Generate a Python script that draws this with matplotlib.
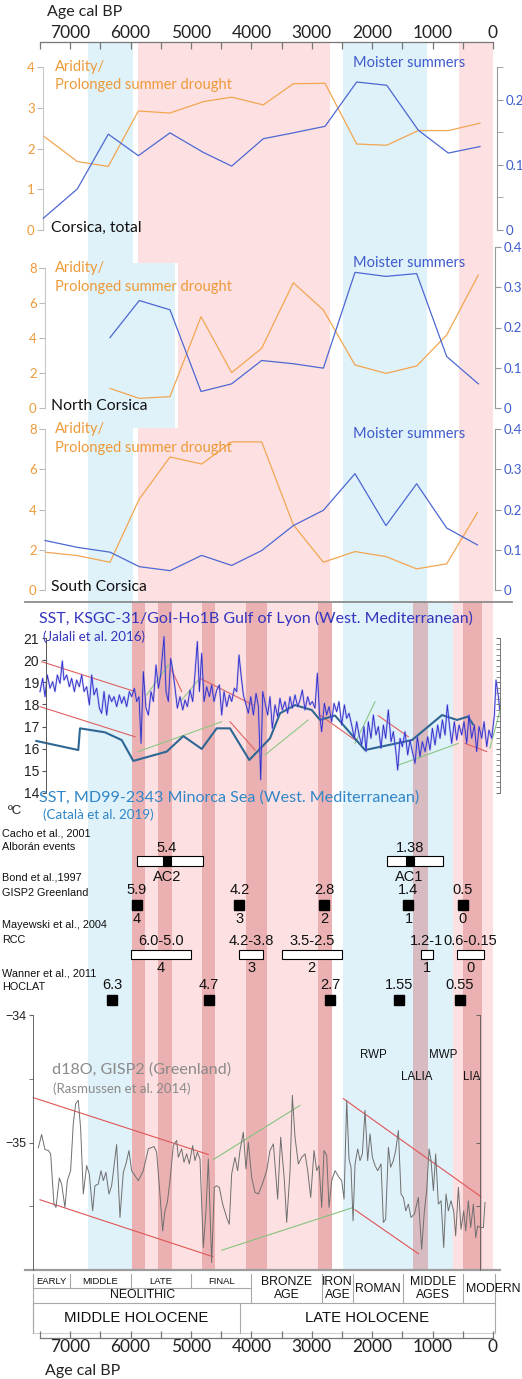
import matplotlib
matplotlib.use('Agg')
import matplotlib.pyplot as plt
from matplotlib.patches import Rectangle

plt.rcParams['font.family'] = ['Lato', 'DejaVu Sans']
ARIAL = ['Liberation Sans', 'DejaVu Sans']

W, H, DPI = 522, 1379, 100

# ---------------- data ----------------
age_major = [7000, 6000, 5000, 4000, 3000, 2000, 1000, 0]
age_minor = [7500, 6500, 5500, 4500, 3500, 2500, 1500, 500]

# Corsica, total
tot_age = [7445, 6882, 6369, 5872, 5348, 4796, 4327, 3803, 3306, 2781, 2257, 1760, 1236, 740, 215]
tot_arid = [2.31, 1.68, 1.56, 2.92, 2.87, 3.15, 3.26, 3.07, 3.59, 3.60, 2.11, 2.08, 2.44, 2.44, 2.62]
tot_moist = [0.018, 0.063, 0.147, 0.114, 0.149, 0.119, 0.098, 0.140, 0.149, 0.159, 0.227, 0.222, 0.153, 0.118, 0.128]

# North Corsica
north_age = [6341, 5856, 5348, 4834, 4327, 3830, 3306, 2809, 2285, 1772, 1264, 767, 243]
north_arid = [1.12, 0.55, 0.65, 5.22, 2.02, 3.41, 7.16, 5.6, 2.46, 1.98, 2.4, 4.17, 7.6]
north_moist = [0.175, 0.267, 0.244, 0.041, 0.060, 0.118, 0.110, 0.099, 0.337, 0.327, 0.334, 0.128, 0.060]

# South Corsica
south_age = [7417, 6882, 6341, 5856, 5348, 4823, 4327, 3830, 3306, 2809, 2285, 1772, 1264, 767, 258]
south_arid = [1.88, 1.71, 1.38, 4.52, 6.61, 6.26, 7.36, 7.36, 3.24, 1.38, 1.91, 1.66, 1.05, 1.30, 3.85]
south_moist = [0.123, 0.106, 0.094, 0.058, 0.048, 0.086, 0.061, 0.098, 0.160, 0.198, 0.289, 0.160, 0.264, 0.154, 0.112]

# SST Gulf of Lyon (Jalali et al. 2016)
lyon_age = [7500, 7456, 7417, 7379, 7334, 7290, 7252, 7213, 7169, 7130, 7103, 7058, 7014, 6976, 6931,
            6893, 6849, 6810, 6771, 6727, 6683, 6644, 6606, 6562, 6517, 6479, 6440, 6396, 6357, 6313,
            6275, 6230, 6186, 6148, 6109, 6065, 6021, 5982, 5938, 5899, 5861, 5827, 5789, 5745, 5706,
            5662, 5623, 5579, 5540, 5502, 5447, 5413, 5375, 5336, 5303, 5264, 5226, 5182, 5137, 5099,
            5060, 5016, 4972, 4933, 4895, 4861, 4823, 4784, 4740, 4696, 4657, 4619, 4574, 4530, 4492,
            4453, 4409, 4365, 4326, 4282, 4243, 4205, 4171, 4133, 4089, 4050, 4011, 3967, 3923, 3884,
            3846, 3813, 3731, 3692, 3654, 3609, 3565, 3527, 3488, 3444, 3400, 3361, 3322, 3278, 3234,
            3195, 3157, 3113, 3068, 3030, 2991, 2947, 2908, 2875, 2837, 2792, 2754, 2715, 2671, 2632,
            2588, 2550, 2505, 2461, 2423, 2384, 2340, 2296, 2257, 2218, 2174, 2136, 2102, 2064, 2020,
            1981, 1937, 1898, 1854, 1815, 1777, 1733, 1688, 1650, 1611, 1578, 1539, 1501, 1457, 1412,
            1374, 1335, 1291, 1252, 1208, 1170, 1125, 1081, 1043, 1004, 960, 916, 877, 838, 794,
            756, 722, 684, 640, 601, 562, 518, 480, 435, 397, 353, 308, 270, 231, 187,
            148, 104, 66, 21, -23, -50, -89, -112]
lyon_sst = [18.58, 19.18, 18.35, 19.33, 18.73, 19.03, 18.58, 19.33, 18.95, 19.96, 19.10, 19.33, 18.80, 19.18, 18.58,
            19.10, 18.80, 19.33, 18.58, 18.80, 17.98, 19.33, 18.43, 18.73, 17.83, 17.60, 18.58, 17.52, 18.43, 18.13,
            18.35, 17.90, 18.43, 18.05, 18.35, 17.90, 18.58, 18.35, 18.73, 18.13, 18.35, 16.24, 19.48, 17.83, 17.52,
            18.58, 18.13, 19.78, 18.73, 19.33, 21.06, 18.58, 18.13, 20.08, 19.56, 18.73, 17.83, 18.35, 17.75, 18.20,
            17.90, 18.65, 18.13, 19.41, 20.84, 18.58, 20.31, 18.13, 18.80, 18.35, 18.88, 18.13, 18.65, 18.88, 17.52,
            18.58, 17.90, 18.43, 18.13, 18.73, 18.58, 20.23, 19.33, 18.43, 17.98, 17.60, 18.35, 17.52, 18.50, 17.90,
            14.60, 18.58, 17.52, 18.35, 16.92, 17.98, 17.45, 18.28, 17.75, 18.13, 17.60, 18.35, 17.83, 18.43, 17.90,
            18.20, 18.65, 17.75, 18.35, 17.98, 18.13, 17.83, 19.41, 17.67, 16.77, 18.05, 17.52, 17.90, 17.22, 18.05,
            17.67, 18.13, 17.07, 17.98, 17.37, 17.60, 17.07, 16.47, 17.22, 16.62, 16.17, 17.00, 15.87, 17.22, 16.47,
            17.52, 16.62, 17.00, 16.02, 17.07, 16.47, 17.75, 16.32, 16.77, 15.94, 15.04, 16.47, 16.09, 16.77, 15.72,
            16.39, 15.87, 15.34, 16.54, 15.64, 16.32, 15.87, 16.54, 15.94, 16.92, 16.17, 17.07, 16.47, 17.30, 16.62,
            17.98, 17.07, 16.24, 17.22, 16.39, 17.07, 16.62, 17.22, 16.24, 17.52, 16.47, 17.07, 15.87, 17.00, 16.47,
            17.22, 16.09, 16.84, 16.47, 17.52, 19.10, 18.35, 17.75]

# SST Minorca Sea (Catala et al. 2019)
minorca_age = [7560, 6866, 6838, 6424, 6147, 5955, 5402, 5127, 4823, 4575, 4354, 4035, 3692, 3526,
               3278, 3002, 2864, 2616, 2119, 1341, 844, 596, 414, 331]
minorca_sst = [16.35, 15.94, 16.92, 16.74, 16.39, 15.45, 15.87, 16.57, 15.99, 16.92, 16.92, 15.49, 16.47, 17.60,
               17.97, 17.75, 17.30, 17.50, 15.94, 16.39, 17.52, 17.30, 17.45, 17.10]

sst_red = [((7472, 19.93), (5927, 18.58)), ((7500, 17.90), (5927, 16.54)), ((5320, 19.56), (5154, 18.58)),
           ((4851, 19.18), (3968, 17.97)), ((4354, 17.22), (3940, 15.94)), ((2864, 17.52), (2235, 16.30)),
           ((1899, 17.49), (1402, 16.54)), ((464, 16.24), (104, 15.87))]
sst_green = [((5733, 18.43), (5376, 19.78)), ((5154, 18.20), (4879, 19.10)), ((5873, 15.87), (4492, 17.22)),
             ((3775, 15.72), (3058, 17.30)), ((2285, 16.24), (1954, 18.12)), ((1568, 15.26), (575, 16.24)),
             ((50, 16.02), (-110, 17.67))]

# events
cacho_age = [5400, 1380]
cacho_label = ['5.4', '1.38']
cacho_name = ['AC2', 'AC1']
cacho_span = [(5900, 4800), (1755, 830)]
bond_ka = [5.9, 4.2, 2.8, 1.4, 0.5]
bond_num = ['4', '3', '2', '1', '0']
rcc_span = [(6.0, 5.0), (4.2, 3.8), (3.5, 2.5), (1.2, 1.0), (0.6, 0.15)]
rcc_label = ['6.0-5.0', '4.2-3.8', '3.5-2.5', '1.2-1', '0.6-0.15']
rcc_num = ['4', '3', '2', '1', '0']
hoclat_ka = [6.3, 4.7, 2.7, 1.55, 0.55]

# d18O GISP2 (Rasmussen et al. 2014)
gisp_age = [7528, 7473, 7418, 7362, 7324, 7269, 7235, 7180, 7142, 7087, 7048, 6993, 6949, 6910, 6866,
            6827, 6783, 6728, 6684, 6628, 6590, 6535, 6490, 6452, 6408, 6358, 6314, 6231, 6176, 6121,
            6077, 6027, 5983, 5928, 5872, 5790, 5707, 5613, 5569, 5525, 5469, 5431, 5392, 5348, 5293,
            5238, 5210, 5155, 5116, 5072, 5028, 4973, 4934, 4895, 4851, 4796, 4752, 4713, 4658, 4614,
            4575, 4531, 4476, 4410, 4366, 4327, 4272, 4228, 4189, 4134, 4090, 4051, 3996, 3941,
            3885, 3819, 3747, 3692, 3636, 3565, 3515, 3454, 3416, 3360, 3322, 3278, 3223, 3167, 3112,
            3068, 3018, 2963, 2919, 2880, 2836, 2798, 2753, 2715, 2671, 2615, 2549, 2505, 2466, 2422,
            2384, 2351, 2317, 2284, 2240, 2202, 2163, 2119, 2075, 2036, 1997, 1953, 1909, 1854, 1815,
            1777, 1732, 1694, 1650, 1611, 1567, 1523, 1484, 1445, 1401, 1357, 1302, 1236, 1181, 1136,
            1098, 1059, 1026, 987, 949, 905, 860, 816, 778, 739, 695, 651, 618, 573, 529,
            485, 452, 408, 369, 325, 286, 253, 209, 160, 132]
gisp_d18o = [-35.042, -34.937, -35.055, -35.063, -35.089, -35.483, -35.509, -35.278, -35.326, -35.509, -35.299,
             -35.221, -34.853, -34.696, -34.669, -34.892, -35.404, -35.181, -35.247, -35.536, -35.339, -35.326,
             -35.221, -35.299, -35.234, -35.404, -35.339, -35.016, -35.588, -35.234, -35.168, -35.063, -35.221,
             -35.260, -35.299, -35.221, -35.050, -35.031, -35.076, -35.339, -35.693, -35.536, -35.470, -35.299,
             -35.024, -34.984, -35.116, -35.050, -35.155, -35.089, -35.168, -35.024, -35.142, -35.076, -35.129,
             -35.824, -35.536, -35.129, -35.942, -35.352, -35.339, -35.352, -35.483, -35.588, -35.641, -35.247,
             -35.116, -35.221, -35.063, -34.919, -35.207, -34.997, -35.273, -35.391,
             -35.404, -35.326, -35.221, -35.063, -35.011, -35.444, -34.958, -35.299, -35.627, -35.221, -34.630,
             -34.958, -35.168, -35.116, -35.089, -35.221, -35.431, -35.063, -35.221, -35.181, -35.509, -35.063,
             -35.102, -35.509, -35.299, -35.221, -35.273, -35.299, -35.444, -34.669, -35.129, -35.194, -35.614,
             -35.168, -35.050, -35.142, -35.089, -34.748, -35.142, -34.932, -35.116, -35.181, -35.221, -35.168,
             -35.627, -35.601, -35.037, -35.194, -35.142, -35.063, -34.906, -35.404, -35.431, -35.536, -35.483,
             -35.588, -35.562, -35.431, -35.837, -35.536, -35.378, -35.050, -35.142, -35.378, -35.089, -35.483,
             -35.457, -35.824, -35.404, -35.536, -35.457, -35.536, -35.732, -35.352, -35.680, -35.536, -35.693,
             -35.457, -35.667, -35.483, -35.746, -35.654, -35.667, -35.667, -35.470]
gisp_red = [((7611, -34.648), (4714, -35.094)), ((7500, -35.449), (4641, -35.895)),
            ((2478, -34.656), (199, -35.425)), ((2285, -35.528), (1236, -35.872))]
gisp_green = [((4631, -35.134), (3195, -34.709)), ((4492, -35.845), (2313, -35.509))]

# climate phases (background shading, years BP)
upper_blue = [(6700, 5960), (2480, 1095)]
upper_pink = [(5880, 2700), (560, 0)]
north_blue = [(6700, 5265), (2480, 1095)]
north_pink = [(5215, 2700), (560, 0)]
lower_blue = [(6700, 5980), (2480, 660)]
lower_pink = [(5980, 2670), (660, 0)]
dark_pink = [(5980, 5760), (5545, 5315), (4820, 4600), (4090, 3740), (2900, 2670), (500, 180)]
lalia = [(1320, 1080)]

# cultural periods
period_row1 = [('EARLY', 7616, 7000), ('MIDDLE', 7000, 6000), ('LATE', 6000, 5000), ('FINAL', 5000, 4000)]
period_row2 = [('BRONZE\nAGE', 4000, 2830), ('IRON\nAGE', 2830, 2320), ('ROMAN', 2320, 1490),
               ('MIDDLE\nAGES', 1490, 497), ('MODERN', 497, -33)]
holocene = [('MIDDLE HOLOCENE', 7616, 4190), ('LATE HOLOCENE', 4190, -33)]

# ---------------- colours ----------------
ORANGE = '#f2a652'
BLUE = '#4d68d2'
ORANGE_T = '#ee9a3a'
BLUE_T = '#3e5ccc'
PINK = '#fde1e2'
LBLUE = '#dff1f9'
DARK = '#ebb1b2'
MAUVE = '#d8bac1'
SPINE = '#9a9a9a'

# ---------------- helpers ----------------
AGE0_PX, PX_PER_YR = 493.0, 0.0604


def age_at(px):
    return (AGE0_PX - px) / PX_PER_YR


fig = plt.figure(figsize=(W / DPI, H / DPI), dpi=DPI)


def px_axes(x0, y0, x1, y1, z=1):
    ax = fig.add_axes([x0 / W, 1 - y1 / H, (x1 - x0) / W, (y1 - y0) / H], zorder=z)
    ax.set_xlim(age_at(x0), age_at(x1))
    ax.patch.set_alpha(0)
    return ax


def ftext(x, y, s, **kw):
    kw.setdefault('va', 'center')
    fig.text(x / W, 1 - y / H, s, **kw)


bg = px_axes(0, 0, W, H, z=0)
bg.set_ylim(H, 0)
bg.axis('off')


def shade(spans, y0, y1, color):
    for a, b in spans:
        bg.fill_between([a, b], y0, y1, color=color, lw=0)


# upper part (Corsica panels)
for (y0, y1), blue, pink in [((42, 263), upper_blue, upper_pink),
                             ((263, 428), north_blue, north_pink),
                             ((428, 602), upper_blue, upper_pink)]:
    shade(blue, y0, y1, LBLUE)
    shade(pink, y0, y1, PINK)
# lower part (SST, events, d18O)
shade(lower_blue, 602, 1270, LBLUE)
shade(lower_pink, 602, 1270, PINK)
shade(dark_pink, 602, 1270, DARK)
shade(lalia, 602, 1270, MAUVE)

# separators
bg.plot([age_at(25), age_at(512)], [602, 602], color='#8c8c8c', lw=1.3)
bg.plot([age_at(25), age_at(500)], [1270, 1270], color='#9c9c9c', lw=1.6)


# ---------------- age axes ----------------
def age_axis(y, top):
    ax = px_axes(40, y - 10, 493, y) if not top else px_axes(40, y, 493, y + 10)
    for s in ax.spines.values():
        s.set_visible(False)
    sp = 'top' if top else 'bottom'
    ax.spines[sp].set_visible(True)
    ax.spines[sp].set_color('#777')
    ax.spines[sp].set_linewidth(0.9)
    ax.set_yticks([])
    ax.set_xticks(age_major)
    ax.set_xticks(age_minor, minor=True)
    ax.set_xticklabels([str(a) for a in age_major])
    if top:
        ax.xaxis.tick_top()
    ax.tick_params(axis='x', which='both', direction='in', length=5, width=0.9, color='#777',
                   labelsize=12.5, pad=1, labelcolor='#222')
    return ax


age_axis(42, True)
age_axis(1338, False)
ftext(47, 12, 'Age cal BP', fontsize=11.5, color='#222')
ftext(45, 1371, 'Age cal BP', fontsize=11.5, color='#222')


# ---------------- Corsica panels ----------------
def corsica_panel(y_top, y_bot, ages, arid, moist, lmax, rmax, lticks, rmaj, rmin, lbound,
                  x0=45, x1=495):
    axl = px_axes(x0, y_top, x1, y_bot, z=2)
    axl.plot(ages, arid, color=ORANGE, lw=0.9, clip_on=False)
    axl.set_ylim(0, lmax)
    axr = axl.twinx()
    axr.set_ylim(0, rmax)
    axr.plot(ages, moist, color=BLUE, lw=0.9, clip_on=False)
    for ax in (axl, axr):
        for s in ax.spines.values():
            s.set_visible(False)
        ax.set_xticks([])
    axl.spines['left'].set_visible(True)
    axl.spines['left'].set_color('#c8c8c8')
    axl.spines['left'].set_bounds(0, lbound)
    axl.set_yticks(lticks)
    axl.tick_params(axis='y', length=4, color='#bbbbbb', labelcolor=ORANGE_T, labelsize=9.5, pad=2)
    axr.spines['right'].set_visible(True)
    axr.spines['right'].set_color(SPINE)
    axr.set_yticks(rmaj)
    axr.set_yticks(rmin, minor=True)
    axr.set_yticklabels([('%g' % v) for v in rmaj])
    axr.tick_params(axis='y', which='both', length=4, color=SPINE, labelcolor=BLUE_T, labelsize=9.5, pad=2)
    return axl


corsica_panel(67, 230, tot_age, tot_arid, tot_moist, 4, 0.25, [0, 1, 2, 3, 4], [0, 0.1, 0.2],
              [0.05, 0.15, 0.25], 4, x0=43, x1=497)
corsica_panel(247, 408, north_age, north_arid, north_moist, 9.2, 0.4, [0, 2, 4, 6, 8],
              [0, 0.1, 0.2, 0.3, 0.4], [], 8)
corsica_panel(429, 590, south_age, south_arid, south_moist, 8, 0.4, [0, 2, 4, 6, 8],
              [0, 0.1, 0.2, 0.3, 0.4], [], 8)

for ya, yp, ym, yn, name in [(67, 85, 63, 228, 'Corsica, total'), (268, 287, 263, 406, 'North Corsica'),
                             (429, 448, 434, 587, 'South Corsica')]:
    ftext(55, ya, 'Aridity/', fontsize=10.5, color=ORANGE_T)
    ftext(55, yp, 'Prolonged summer drought', fontsize=10.5, color=ORANGE_T)
    ftext(353, ym, 'Moister summers', fontsize=10.5, color=BLUE_T)
    ftext(51, yn, name, fontsize=11.3, color='#111')

# ---------------- SST panel ----------------
ax_sst = px_axes(46, 638, 500, 793, z=2)
ax_sst.set_ylim(14, 21)
for (a0, t0), (a1, t1) in sst_red:
    ax_sst.plot([a0, a1], [t0, t1], color='#e06060', lw=0.8, clip_on=False)
for (a0, t0), (a1, t1) in sst_green:
    ax_sst.plot([a0, a1], [t0, t1], color='#8cc784', lw=0.8, clip_on=False)
ax_sst.plot(minorca_age, minorca_sst, color='#2e6793', lw=1.5, clip_on=False)
ax_sst.plot(lyon_age, lyon_sst, color='#8a86ec', lw=1.5, alpha=0.45, clip_on=False)
ax_sst.plot(lyon_age, lyon_sst, color='#2b2bc8', lw=0.6, clip_on=False)
for s in ax_sst.spines.values():
    s.set_visible(False)
ax_sst.spines['left'].set_visible(True)
ax_sst.spines['left'].set_color('#555')
ax_sst.spines['left'].set_linewidth(0.7)
ax_sst.set_xticks([])
ax_sst.set_yticks(range(14, 22))
ax_sst.tick_params(axis='y', length=3, color='#555', labelsize=10, pad=2, labelcolor='#222')
for lab in ax_sst.get_yticklabels():
    lab.set_family(ARIAL)
ax_sst_r = ax_sst.twinx()
ax_sst_r.set_ylim(14, 21)
for s in ax_sst_r.spines.values():
    s.set_visible(False)
ax_sst_r.spines['right'].set_visible(True)
ax_sst_r.spines['right'].set_color('#777')
ax_sst_r.spines['right'].set_linewidth(0.7)
ax_sst_r.set_yticks(range(14, 22))
ax_sst_r.set_yticks([14 + 0.25 * i for i in range(29)], minor=True)
ax_sst_r.set_yticklabels([])
ax_sst_r.tick_params(axis='y', which='both', direction='in', length=3, color='#777')

ftext(39, 618, 'SST, KSGC-31/GoI-Ho1B Gulf of Lyon (West. Mediterranean)', fontsize=11.5, color='#3434bd')
ftext(43, 637, '(Jalali et al. 2016)', fontsize=9.6, color='#3434bd')
ftext(39, 798, 'SST, MD99-2343 Minorca Sea (West. Mediterranean)', fontsize=11.6, color='#2f86c8')
ftext(43, 815, '(Català et al. 2019)', fontsize=9.6, color='#2f86c8')
ftext(8, 811, 'ºC', fontsize=9.5, color='#222', family=ARIAL)

# ---------------- events ----------------
EV = dict(family=ARIAL, color='#111')
for y, s in [(833, 'Cacho et al., 2001'), (847, 'Alborán events'), (878, 'Bond et al.,1997'),
             (893, 'GISP2 Greenland'), (925, 'Mayewski et al., 2004'), (940, 'RCC'),
             (973, 'Wanner et al., 2011'), (987, 'HOCLAT')]:
    ftext(2, y, s, fontsize=7.8, **EV)

for age, lab, name, (a0, a1) in zip(cacho_age, cacho_label, cacho_name, cacho_span):
    bg.add_patch(Rectangle((a1, 856), a0 - a1, 10, facecolor='white', edgecolor='k', lw=0.8))
    bg.add_patch(Rectangle((age - 65, 856), 130, 10, facecolor='k', edgecolor='k', lw=0.8))
    bg.text(age, 848, lab, ha='center', va='center', fontsize=10.5, **EV)
    bg.text(age, 877, name, ha='center', va='center', fontsize=10.5, **EV)

bond_age = [k * 1000 for k in bond_ka]
bg.plot(bond_age, [905] * len(bond_age), 's', ms=7, color='k')
for a, k, n in zip(bond_age, bond_ka, bond_num):
    bg.text(a, 890, '%g' % k, ha='center', va='center', fontsize=10.5, **EV)
    bg.text(a, 919, n, ha='center', va='center', fontsize=10.5, **EV)

for (k0, k1), lab, n in zip(rcc_span, rcc_label, rcc_num):
    bg.add_patch(Rectangle((k1 * 1000, 950), (k0 - k1) * 1000, 9, facecolor='white', edgecolor='k', lw=0.8))
    mid = (k0 + k1) * 500
    bg.text(mid, 941, lab, ha='center', va='center', fontsize=10.5, **EV)
    bg.text(mid, 968, n, ha='center', va='center', fontsize=10.5, **EV)

hoclat_age = [k * 1000 for k in hoclat_ka]
bg.plot(hoclat_age, [1000] * len(hoclat_age), 's', ms=7.5, color='k')
for a, k in zip(hoclat_age, hoclat_ka):
    bg.text(a, 985, '%g' % k, ha='center', va='center', fontsize=10.5, **EV)

# ---------------- d18O panel ----------------
ax_d = px_axes(33, 1015, 480, 1270, z=2)
ax_d.set_ylim(-36, -34)
for (a0, v0), (a1, v1) in gisp_red:
    ax_d.plot([a0, a1], [v0, v1], color='#e05555', lw=0.8, clip_on=False)
for (a0, v0), (a1, v1) in gisp_green:
    ax_d.plot([a0, a1], [v0, v1], color='#86c27e', lw=0.8, clip_on=False)
ax_d.plot(gisp_age, gisp_d18o, color='#6f6f6f', lw=0.7, clip_on=False)
for s in ax_d.spines.values():
    s.set_visible(False)
ax_d.spines['left'].set_visible(True)
ax_d.spines['left'].set_color('#666')
ax_d.spines['left'].set_linewidth(0.7)
ax_d.set_xticks([])
ax_d.set_yticks([-35, -34])
ax_d.set_yticks([-35.5, -34.5], minor=True)
ax_d.tick_params(axis='y', which='both', length=3, color='#666', labelsize=9, pad=2, labelcolor='#222')
for lab in ax_d.get_yticklabels():
    lab.set_family(ARIAL)
ax_d_r = ax_d.twinx()
ax_d_r.set_ylim(-36, -34)
for s in ax_d_r.spines.values():
    s.set_visible(False)
ax_d_r.spines['right'].set_visible(True)
ax_d_r.spines['right'].set_color('#666')
ax_d_r.spines['right'].set_linewidth(0.7)
ax_d_r.set_yticks([-35.5, -35, -34.5, -34])
ax_d_r.set_yticklabels([])
ax_d_r.tick_params(axis='y', direction='in', length=3, color='#666')

ftext(52, 1070, 'd18O, GISP2 (Greenland)', fontsize=11.6, color='#8a8a8a')
ftext(53, 1089, '(Rasmussen et al. 2014)', fontsize=9.5, color='#8a8a8a')
for x, y, s in [(373, 1055, 'RWP'), (443, 1055, 'MWP'), (417, 1077, 'LALIA'), (472, 1077, 'LIA')]:
    ftext(x, y, s, fontsize=8.3, ha='center', **EV)

# ---------------- cultural periods table ----------------
GRID = dict(color='#a8a8a8', lw=0.8)
T0, T1, T2, T3 = 1274, 1288, 1303, 1333
for name, a0, a1 in period_row1:
    bg.plot([a0, a0], [T0, T1], **GRID)
    bg.text((a0 + a1) / 2, (T0 + T1) / 2 + 0.5, name, ha='center', va='center', fontsize=6.8, **EV)
bg.plot([period_row1[0][1], period_row1[-1][2]], [T1, T1], **GRID)
bg.text((period_row1[0][1] + period_row1[-1][2]) / 2, (T1 + T2) / 2, 'NEOLITHIC', ha='center', va='center',
        fontsize=8.8, **EV)
for name, a0, a1 in period_row2:
    bg.plot([a0, a0], [T0, T2], **GRID)
    if name == 'MODERN':
        bg.text(a0 - 50, (T0 + T2) / 2, name, ha='left', va='center', fontsize=8.8, **EV)
    else:
        bg.text((a0 + a1) / 2, (T0 + T2) / 2, name, ha='center', va='center', fontsize=8.8,
                linespacing=1.05, **EV)
bg.plot([period_row1[0][1], period_row1[0][1]], [T0, T3], **GRID)
bg.plot([period_row2[-1][2], period_row2[-1][2]], [T0, T3], **GRID)
bg.plot([period_row1[0][1], period_row2[-1][2]], [T2, T2], **GRID)
bg.plot([period_row1[0][1], period_row2[-1][2]], [T3, T3], color='#d0d0d0', lw=0.8)
for name, a0, a1 in holocene:
    bg.plot([a0, a0], [T2, T3], **GRID)
    bg.text((a0 + a1) / 2, (T2 + T3) / 2, name, ha='center', va='center', fontsize=10.7, **EV)

fig.savefig('out.png', dpi=DPI)
